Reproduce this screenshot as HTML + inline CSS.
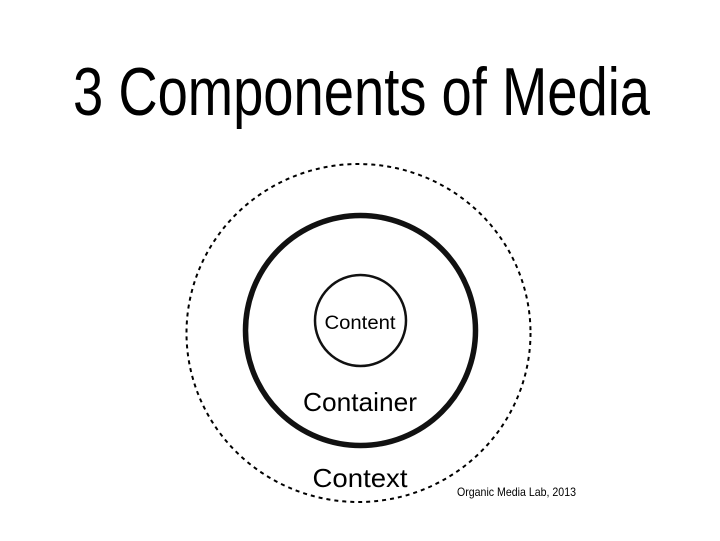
<!DOCTYPE html>
<html><head><style>
html,body{margin:0;padding:0;background:#fff;}
svg{display:block}
</style></head><body>
<svg width="720" height="541" viewBox="0 0 720 541" xmlns="http://www.w3.org/2000/svg">
<rect width="720" height="541" fill="#fff"/>
<text x="73" y="115" font-family="Liberation Sans, sans-serif" font-size="68" fill="#000" textLength="577" lengthAdjust="spacingAndGlyphs">3 Components of Media</text>
<ellipse cx="358.5" cy="333" rx="172" ry="169" fill="none" stroke="#000" stroke-width="2" stroke-dasharray="4,4"/>
<circle cx="360.5" cy="330.5" r="115" fill="none" stroke="#111" stroke-width="5.5"/>
<circle cx="360.5" cy="320.5" r="45.5" fill="none" stroke="#111" stroke-width="2.5"/>
<text x="360" y="329" text-anchor="middle" font-family="Liberation Sans, sans-serif" font-size="19" fill="#000" textLength="71" lengthAdjust="spacingAndGlyphs">Content</text>
<text x="360" y="411" text-anchor="middle" font-family="Liberation Sans, sans-serif" font-size="26" fill="#000" textLength="114" lengthAdjust="spacingAndGlyphs">Container</text>
<text x="360" y="487" text-anchor="middle" font-family="Liberation Sans, sans-serif" font-size="26" fill="#000" textLength="95" lengthAdjust="spacingAndGlyphs">Context</text>
<text x="457" y="496" font-family="Liberation Sans, sans-serif" font-size="12" fill="#000" textLength="119" lengthAdjust="spacingAndGlyphs">Organic Media Lab, 2013</text>
</svg>
</body></html>
